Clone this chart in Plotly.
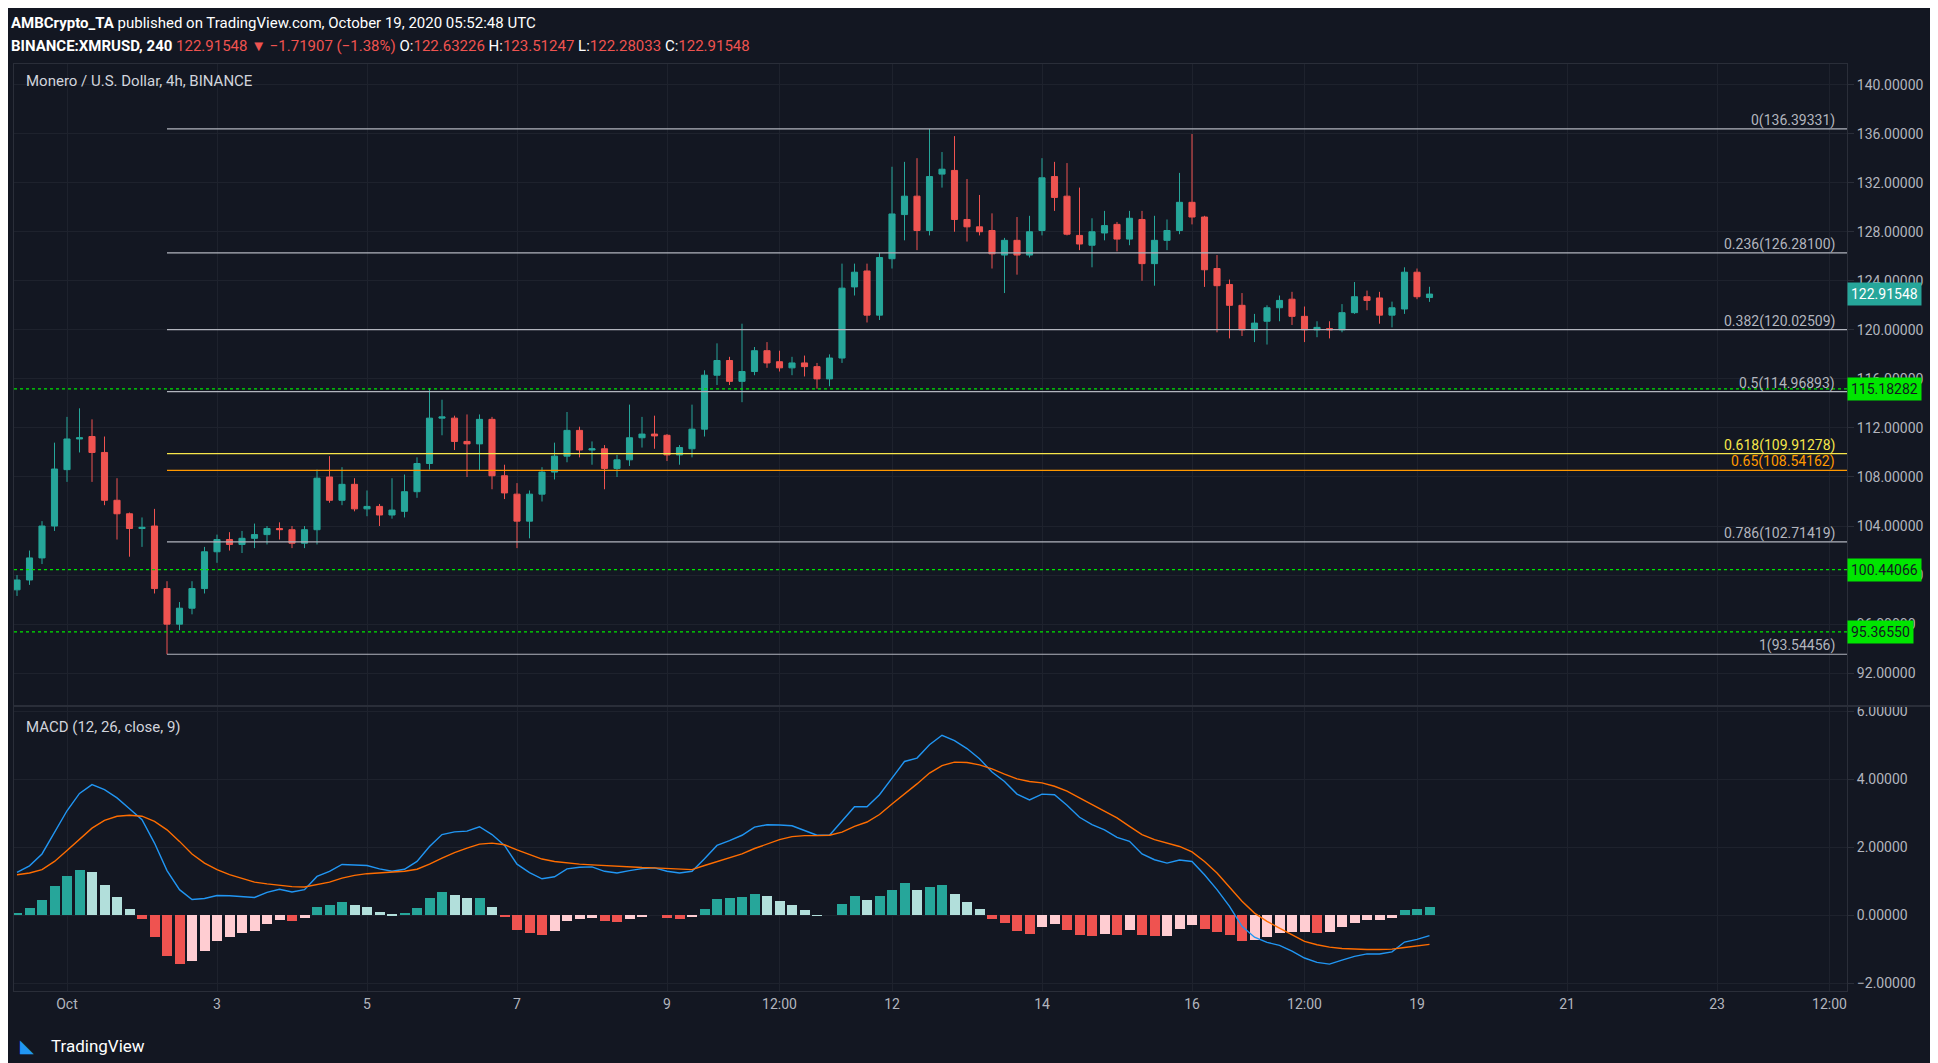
import pandas as pd
import plotly.graph_objects as go
from plotly.subplots import make_subplots

# 4h candles, XMR/USD, starting 2020-09-30 08:00
opens = [98.8, 99.6, 101.4, 104.0, 108.6, 111.1, 111.3, 110.0, 106.1, 105.0,
         103.8, 104.0, 98.9, 96.0, 97.3, 98.9, 101.9, 102.9, 102.5, 103.0,
         103.3, 103.8, 103.7, 102.6, 103.7, 108.0, 106.1, 107.4, 105.4, 105.6,
         104.9, 105.2, 106.8, 109.1, 112.8, 112.8, 110.9, 110.7, 112.7, 108.1,
         106.6, 104.4, 106.6, 108.4, 109.7, 111.8, 110.2, 110.3, 108.7, 109.4,
         111.2, 111.5, 111.4, 109.8, 110.3, 111.9, 116.3, 117.5, 115.8, 116.6,
         118.3, 117.4, 116.9, 117.3, 117.0, 116.0, 117.7, 123.5, 124.8, 121.2,
         125.8, 129.4, 130.9, 128.1, 132.7, 133.0, 129.0, 128.4, 128.1, 126.1,
         127.3, 126.1, 128.1, 132.5, 130.9, 127.7, 126.9, 127.9, 128.6, 127.4,
         129.0, 125.4, 127.3, 128.1, 130.4, 129.2, 125.0, 123.7, 122.0, 120.0,
         120.7, 121.8, 122.5, 121.1, 120.0, 120.1, 120.0, 121.4, 122.7, 122.6,
         121.2, 121.7, 124.7, 122.63226]
highs = [100.0, 102.0, 104.4, 110.8, 112.9, 113.6, 112.7, 111.3, 107.9, 105.1,
         104.7, 105.4, 99.5, 97.8, 99.5, 102.3, 103.3, 103.5, 103.6, 104.2,
         104.0, 104.3, 104.0, 104.0, 108.6, 109.7, 108.8, 107.9, 106.9, 105.8,
         107.9, 108.2, 109.6, 115.25, 114.3, 113.0, 113.1, 113.1, 112.9, 109.0,
         107.5, 106.9, 108.8, 110.8, 113.3, 112.1, 110.9, 110.6, 109.8, 113.9,
         112.9, 113.0, 111.5, 110.6, 113.9, 116.7, 118.9, 117.8, 120.5, 118.6,
         119.0, 118.3, 117.8, 117.9, 117.3, 118.0, 125.4, 125.4, 125.4, 126.3,
         133.3, 133.7, 134.0, 136.39, 134.5, 135.8, 132.3, 131.0, 129.5, 127.5,
         129.2, 129.3, 134.0, 133.7, 133.6, 131.6, 129.1, 129.7, 128.8, 129.7,
         129.7, 129.3, 129.0, 132.8, 135.97, 129.3, 126.1, 124.1, 123.0, 121.3,
         122.0, 122.8, 123.1, 121.9, 120.7, 120.7, 122.1, 123.9, 123.2, 123.1,
         122.3, 125.1, 125.0, 123.51247]
lows = [98.3, 99.2, 100.9, 103.6, 107.6, 110.0, 107.6, 105.7, 102.9, 101.5,
        102.3, 98.5, 93.54, 95.5, 96.8, 98.5, 101.0, 102.0, 101.8, 102.2,
        102.5, 102.9, 102.2, 102.2, 102.5, 105.9, 105.7, 105.2, 104.8, 104.0,
        104.6, 104.7, 106.3, 108.6, 111.4, 110.2, 108.0, 108.5, 107.0, 106.2,
        102.2, 103.0, 106.0, 107.8, 109.2, 109.6, 109.0, 107.0, 108.0, 108.9,
        110.4, 110.3, 109.3, 109.0, 109.6, 111.3, 115.5, 115.5, 114.1, 116.3,
        116.9, 116.6, 116.3, 116.2, 115.2, 115.4, 117.3, 122.8, 120.6, 120.8,
        125.0, 127.3, 126.5, 127.7, 131.6, 128.0, 127.2, 127.7, 125.0, 123.0,
        124.5, 125.9, 127.7, 129.7, 127.7, 126.5, 125.1, 127.3, 126.4, 126.9,
        124.0, 123.6, 126.5, 127.8, 128.6, 123.5, 119.8, 119.3, 119.5, 119.0,
        118.8, 120.7, 120.4, 119.0, 119.4, 119.3, 119.8, 121.3, 121.6, 120.5,
        120.2, 121.3, 122.5, 122.28033]
closes = [99.6, 101.4, 104.0, 108.65, 111.1, 111.2, 110.0, 106.1, 105.0, 103.8,
          103.9, 98.9, 96.0, 97.3, 98.9, 101.9, 102.9, 102.5, 103.0, 103.3,
          103.8, 103.7, 102.6, 103.7, 107.9, 106.1, 107.4, 105.4, 105.6, 104.9,
          105.3, 106.8, 109.1, 112.8, 112.9, 110.9, 110.7, 112.7, 108.1, 106.7,
          104.4, 106.6, 108.4, 109.7, 111.8, 110.2, 110.3, 108.7, 109.4, 111.2,
          111.5, 111.35, 109.8, 110.4, 111.9, 116.3, 117.5, 115.8, 116.6, 118.3,
          117.3, 116.9, 117.3, 117.0, 116.0, 117.7, 123.4, 124.7, 121.2, 125.9,
          129.45, 130.9, 128.1, 132.5, 133.1, 129.0, 128.4, 128.0, 126.2, 127.3,
          126.1, 128.0, 132.4, 130.8, 127.8, 127.0, 128.0, 128.5, 127.4, 129.1,
          125.4, 127.3, 128.1, 130.4, 129.2, 124.9, 123.6, 122.0, 120.0, 120.55,
          121.8, 122.4, 121.1, 120.0, 120.2, 120.0, 121.4, 122.7, 122.4, 121.2,
          121.8, 124.7, 122.7, 122.91548]

macd = [1.27, 1.46, 1.81, 2.45, 3.08, 3.59, 3.85, 3.70, 3.46, 3.14,
        2.82, 2.13, 1.32, 0.76, 0.47, 0.50, 0.59, 0.58, 0.56, 0.53,
        0.68, 0.77, 0.69, 0.76, 1.15, 1.30, 1.50, 1.49, 1.47, 1.37,
        1.30, 1.36, 1.59, 2.03, 2.38, 2.46, 2.48, 2.61, 2.38, 2.06,
        1.51, 1.26, 1.08, 1.14, 1.37, 1.42, 1.43, 1.30, 1.25, 1.32,
        1.38, 1.40, 1.30, 1.25, 1.30, 1.67, 2.06, 2.20, 2.36, 2.60,
        2.67, 2.66, 2.64, 2.50, 2.36, 2.36, 2.79, 3.20, 3.20, 3.55,
        4.04, 4.53, 4.63, 5.02, 5.30, 5.14, 4.91, 4.61, 4.22, 3.94,
        3.57, 3.40, 3.57, 3.55, 3.24, 2.89, 2.67, 2.52, 2.30, 2.18,
        1.81, 1.64, 1.54, 1.63, 1.59, 1.20, 0.76, 0.27, -0.32, -0.64,
        -0.79, -0.88, -1.05, -1.25, -1.38, -1.43, -1.31, -1.20, -1.13, -1.13,
        -1.07, -0.78, -0.70, -0.59]
signal = [1.20, 1.25, 1.35, 1.59, 1.91, 2.24, 2.57, 2.80, 2.92, 2.95,
          2.92, 2.77, 2.52, 2.18, 1.81, 1.54, 1.35, 1.20, 1.08, 0.98,
          0.93, 0.89, 0.85, 0.84, 0.91, 0.98, 1.10, 1.18, 1.23, 1.26,
          1.28, 1.30, 1.36, 1.51, 1.69, 1.85, 1.98, 2.10, 2.13, 2.08,
          1.93, 1.79, 1.66, 1.59, 1.54, 1.51, 1.49, 1.47, 1.43, 1.41,
          1.41, 1.40, 1.38, 1.36, 1.35, 1.47, 1.58, 1.70, 1.81, 1.97,
          2.10, 2.23, 2.32, 2.35, 2.35, 2.36, 2.45, 2.62, 2.75, 2.97,
          3.28, 3.57, 3.87, 4.19, 4.41, 4.51, 4.50, 4.43, 4.31, 4.16,
          4.02, 3.94, 3.90, 3.80, 3.66, 3.46, 3.26, 3.06, 2.87, 2.62,
          2.38, 2.23, 2.13, 2.03, 1.87, 1.59, 1.25, 0.83, 0.42, 0.07,
          -0.17, -0.37, -0.56, -0.76, -0.86, -0.93, -0.97, -0.99, -1.00, -1.00,
          -0.99, -0.94, -0.89, -0.85]

fib_levels = ["0", "0.236", "0.382", "0.5", "0.618", "0.65", "0.786", "1"]
fib_prices = [136.39331, 126.28100, 120.02509, 114.96893, 109.91278, 108.54162, 102.71419, 93.54456]
fib_colors = ["#b2b5be", "#b2b5be", "#b2b5be", "#b2b5be", "#f7e64a", "#ff9800", "#b2b5be", "#b2b5be"]
support_levels = [115.18282, 100.44066, 95.36550]
last_price = 122.91548

tick_dates = ["2020-10-01 00:00", "2020-10-03 00:00", "2020-10-05 00:00", "2020-10-07 00:00",
              "2020-10-09 00:00", "2020-10-10 12:00", "2020-10-12 00:00", "2020-10-14 00:00",
              "2020-10-16 00:00", "2020-10-17 12:00", "2020-10-19 00:00", "2020-10-21 00:00",
              "2020-10-23 00:00", "2020-10-24 12:00"]
tick_text = ["Oct", "3", "5", "7", "9", "12:00", "12", "14", "16", "12:00", "19", "21", "23", "12:00"]

times = pd.date_range("2020-09-30 08:00", periods=len(closes), freq="4h")
hist = [m - s for m, s in zip(macd, signal)]
hist_colors = []
for k, h in enumerate(hist):
    prev = hist[k - 1] if k > 0 else h
    if h >= 0:
        hist_colors.append("#26a69a" if h >= prev else "#b2dfdb")
    else:
        hist_colors.append("#ef5350" if h < prev else "#ffcdd2")

BG = "#131722"
GRID = "#1e222d"
TXT = "#b2b5be"
t0 = times[0]
step = pd.Timedelta(hours=4)
x_start = t0 - 0.24 * step
x_end = t0 + 146.4 * step
fib_start = times[12]

fig = make_subplots(rows=2, cols=1, shared_xaxes=True, vertical_spacing=0)

fig.add_trace(go.Candlestick(x=times, open=opens, high=highs, low=lows, close=closes,
                             increasing=dict(line=dict(color="#26a69a", width=1), fillcolor="#26a69a"),
                             decreasing=dict(line=dict(color="#ef5350", width=1), fillcolor="#ef5350"),
                             whiskerwidth=0, showlegend=False), row=1, col=1)

fig.add_trace(go.Bar(x=times, y=hist, marker=dict(color=hist_colors, line=dict(width=0)),
                     width=0.8 * 4 * 3600 * 1000, showlegend=False), row=2, col=1)
fig.add_trace(go.Scatter(x=times, y=macd, mode="lines", line=dict(color="#2196f3", width=1.4),
                         showlegend=False), row=2, col=1)
fig.add_trace(go.Scatter(x=times, y=signal, mode="lines", line=dict(color="#ff6d00", width=1.4),
                         showlegend=False), row=2, col=1)

# fib retracement lines
for lvl, p, c in zip(fib_levels, fib_prices, fib_colors):
    fig.add_shape(type="line", xref="x", yref="y", x0=fib_start, x1=x_end, y0=p, y1=p,
                  line=dict(color=c, width=1.2))
    fig.add_annotation(xref="paper", yref="y", x=0.9945, y=p, xanchor="right", yanchor="bottom",
                       text=f"{lvl}({p:.5f})", showarrow=False, font=dict(color=c, size=14),
                       yshift=-2)

# horizontal support lines
for p in support_levels:
    fig.add_shape(type="line", xref="paper", yref="y", x0=0, x1=1, y0=p, y1=p,
                  line=dict(color="#00e600", width=1.3, dash="dot"))
    fig.add_annotation(xref="paper", yref="y", x=1.0, y=p, xanchor="left", yanchor="middle",
                       text=f"{p:.5f}", showarrow=False, bgcolor="#00e600",
                       font=dict(color="#131722", size=14), borderpad=3)
fig.add_annotation(xref="paper", yref="y", x=1.0, y=last_price, xanchor="left", yanchor="middle",
                   text=f"{last_price:.5f}", showarrow=False, bgcolor="#26a69a",
                   font=dict(color="#ffffff", size=14), borderpad=3)

# pane separator
fig.add_shape(type="line", xref="paper", yref="paper", x0=0, x1=1.06, y0=0.3074, y1=0.3074,
              line=dict(color="#2a2e39", width=2))

# header texts
fig.add_annotation(xref="paper", yref="paper", x=-0.003, y=1.044, xanchor="left", yanchor="middle",
                   text="<b>AMBCrypto_TA</b> published on TradingView.com, October 19, 2020 05:52:48 UTC",
                   showarrow=False, font=dict(color="#ffffff", size=15))
red = "#ef5350"
fig.add_annotation(xref="paper", yref="paper", x=-0.003, y=1.019, xanchor="left", yanchor="middle",
                   text=("<b>BINANCE:XMRUSD, 240</b> <span style='color:%s'>122.91548 ▼ −1.71907 (−1.38%%)</span>"
                         " O:<span style='color:%s'>122.63226</span> H:<span style='color:%s'>123.51247</span>"
                         " L:<span style='color:%s'>122.28033</span> C:<span style='color:%s'>122.91548</span>")
                        % (red, red, red, red, red),
                   showarrow=False, font=dict(color="#ffffff", size=15))
fig.add_annotation(xref="paper", yref="paper", x=0.0055, y=0.993, xanchor="left", yanchor="top",
                   text="Monero / U.S. Dollar, 4h, BINANCE", showarrow=False,
                   font=dict(color="#d1d4dc", size=15))
fig.add_annotation(xref="paper", yref="paper", x=0.0055, y=0.297, xanchor="left", yanchor="top",
                   text="MACD (12, 26, close, 9)", showarrow=False,
                   font=dict(color="#d1d4dc", size=15))
fig.add_annotation(xref="paper", yref="paper", x=0.019, y=-0.059, xanchor="left", yanchor="middle",
                   text="TradingView", showarrow=False, font=dict(color="#ffffff", size=17))
fig.add_annotation(xref="paper", yref="paper", x=0.002, y=-0.059, xanchor="left", yanchor="middle",
                   text="◣", showarrow=False, font=dict(color="#2196f3", size=18))

axis_common = dict(gridcolor=GRID, showline=True, linecolor="#2a2e39", zeroline=False,
                   tickfont=dict(color=TXT, size=14))
fig.update_xaxes(range=[x_start, x_end], tickvals=pd.to_datetime(tick_dates), ticktext=tick_text,
                 rangeslider=dict(visible=False), mirror=True, **axis_common)
fig.update_yaxes(side="right", tickformat=".5f", mirror=True, ticks="outside", ticklen=6,
                 tickcolor="#2a2e39", **axis_common)
fig.update_yaxes(range=[89.32, 141.68], dtick=4, tick0=0, domain=[0.3074, 1], row=1, col=1)
fig.update_yaxes(range=[-2.22, 6.16], dtick=2, tick0=0, domain=[0, 0.3074], row=2, col=1)
fig.update_xaxes(showticklabels=False, row=1, col=1)

fig.update_layout(width=1938, height=1063, paper_bgcolor=BG, plot_bgcolor=BG,
                  margin=dict(l=6, r=99, t=56, b=80), bargap=0,
                  font=dict(family="Roboto, Liberation Sans, sans-serif", color=TXT),
                  xaxis_rangeslider_visible=False)

fig.write_html("out.html")
